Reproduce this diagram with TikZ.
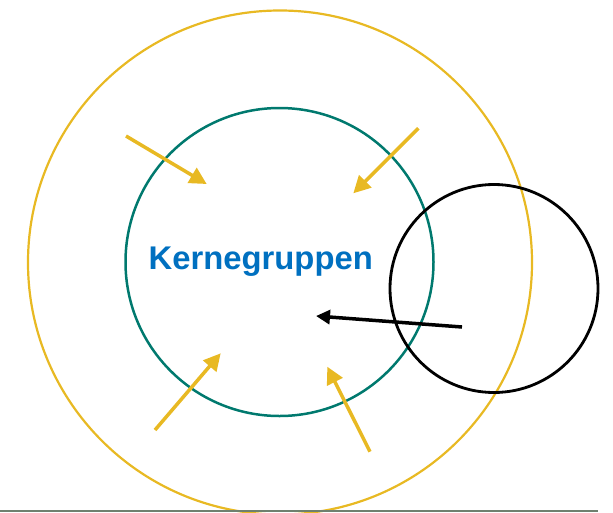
\documentclass[tikz,border=0pt]{standalone}
\usepackage{fontspec}
\setmainfont{Liberation Sans}
\usetikzlibrary{arrows.meta}
\definecolor{ylw}{HTML}{E8B923}
\definecolor{tealc}{HTML}{00796E}
\definecolor{bluet}{HTML}{0070C0}
\definecolor{grayline}{HTML}{6F806F}
\tikzset{
  ring/.style={circle, draw, inner sep=0pt},
  yarrow/.style={draw=ylw, line width=3.5pt, -{Triangle[length=17pt,width=17pt]}, fill=ylw},
  barrow/.style={draw=black, line width=3.5pt, -{Triangle[length=14pt,width=14pt]}},
}
\begin{document}
\begin{tikzpicture}[x=1pt,y=-1pt]
\useasboundingbox (0,0) rectangle (613,512);
\node[ring, draw=ylw, line width=2.2pt, minimum size=504pt] (outer) at (280,262.5) {};
\node[ring, draw=tealc, line width=2.5pt, minimum size=308pt] (core) at (279.5,262) {};
\node[ring, draw=black, line width=2.8pt, minimum size=208pt] (new) at (494,288.5) {};
\node[anchor=base west, inner sep=0pt, text=bluet, font=\bfseries\fontsize{32.8}{38}\selectfont] (label) at (148.5,269.5) {Kernegruppen};
\coordinate (a1s) at (126,136);   \coordinate (a1e) at (206.7,184);
\coordinate (a2s) at (418.3,128.3); \coordinate (a2e) at (353.3,193.3);
\coordinate (a3s) at (155,430);   \coordinate (a3e) at (220.7,353.3);
\coordinate (a4s) at (370,451.7); \coordinate (a4e) at (327.3,366.7);
\coordinate (bs) at (462,327);    \coordinate (be) at (316,316);
\draw[yarrow] (a1s) -- (a1e);
\draw[yarrow] (a2s) -- (a2e);
\draw[yarrow] (a3s) -- (a3e);
\draw[yarrow] (a4s) -- (a4e);
\draw[barrow] (bs) -- (be);
\coordinate (gl) at (0,511.2); \coordinate (gr) at (598,511.2);
\draw[grayline, line width=1.6pt] (gl) -- (gr);
\end{tikzpicture}
\end{document}
